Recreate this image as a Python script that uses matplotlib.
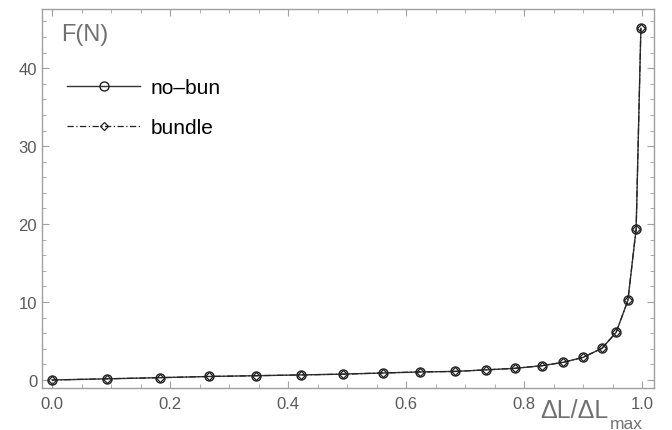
import matplotlib
matplotlib.use("Agg")
import matplotlib.pyplot as plt
from matplotlib.ticker import MultipleLocator, FormatStrFormatter

x_vals = [0.0, 0.093, 0.183, 0.266, 0.346, 0.422, 0.493, 0.561, 0.624, 0.683,
          0.736, 0.785, 0.830, 0.866, 0.900, 0.932, 0.956, 0.976, 0.990, 0.998]
no_bun = [0.0, 0.15, 0.3, 0.45, 0.55, 0.65, 0.75, 0.9, 1.03, 1.1,
          1.3, 1.5, 1.83, 2.26, 2.9, 4.06, 6.1, 10.2, 19.4, 45.1]
bundle = [0.0, 0.15, 0.3, 0.45, 0.55, 0.65, 0.75, 0.9, 1.03, 1.1,
          1.3, 1.5, 1.83, 2.26, 2.9, 4.06, 6.1, 10.2, 19.4, 45.1]

plt.rcParams['font.family'] = ['Liberation Sans', 'DejaVu Sans']

fig = plt.figure(figsize=(6.72, 4.31), dpi=100)
ax = fig.add_axes([0.0625, 0.0974, 0.9105, 0.8796])

ax.plot(x_vals, no_bun, '-', color='#333333', lw=1.0, marker='o', ms=6.5,
        mfc='none', mec='#222222', mew=1.0, label='no\u2013bun')
ax.plot(x_vals, bundle, linestyle=(0, (5, 2, 1, 2)), color='#222222', lw=0.9,
        marker='D', ms=4.5, mfc='none', mec='#222222', mew=0.9, label='bundle')

ax.set_xlim(-0.017, 1.02)
ax.set_ylim(-1.03, 47.6)
ax.xaxis.set_major_locator(MultipleLocator(0.2))
ax.xaxis.set_minor_locator(MultipleLocator(0.05))
ax.yaxis.set_major_locator(MultipleLocator(10))
ax.yaxis.set_minor_locator(MultipleLocator(2))
ax.xaxis.set_major_formatter(FormatStrFormatter('%.1f'))

for s in ax.spines.values():
    s.set_color('#a0a0a0')
    s.set_linewidth(1.0)
ax.tick_params(which='both', direction='in', top=True, right=True,
               colors='#a0a0a0', labelcolor='#5a5a5a', labelsize=12)
ax.tick_params(which='major', length=5, width=0.8)
ax.tick_params(which='minor', length=3, width=0.6)
ax.tick_params(axis='x', pad=6)

ax.text(0.031, 0.962, 'F(N)', transform=ax.transAxes, fontsize=17,
        color='#707070', ha='left', va='top')
fig.text(0.804, 0.030, '\u0394L/\u0394L', fontsize=18,
         color='#707070', ha='left', va='baseline')
fig.text(0.907, 0.004, 'max', fontsize=12.5,
         color='#707070', ha='left', va='baseline')

leg = ax.legend(loc='upper left', bbox_to_anchor=(0.028, 0.839), frameon=False,
                fontsize=15, handlelength=3.46, labelspacing=1.0,
                handletextpad=0.53, borderaxespad=0)

fig.savefig('out.png', dpi=100)
